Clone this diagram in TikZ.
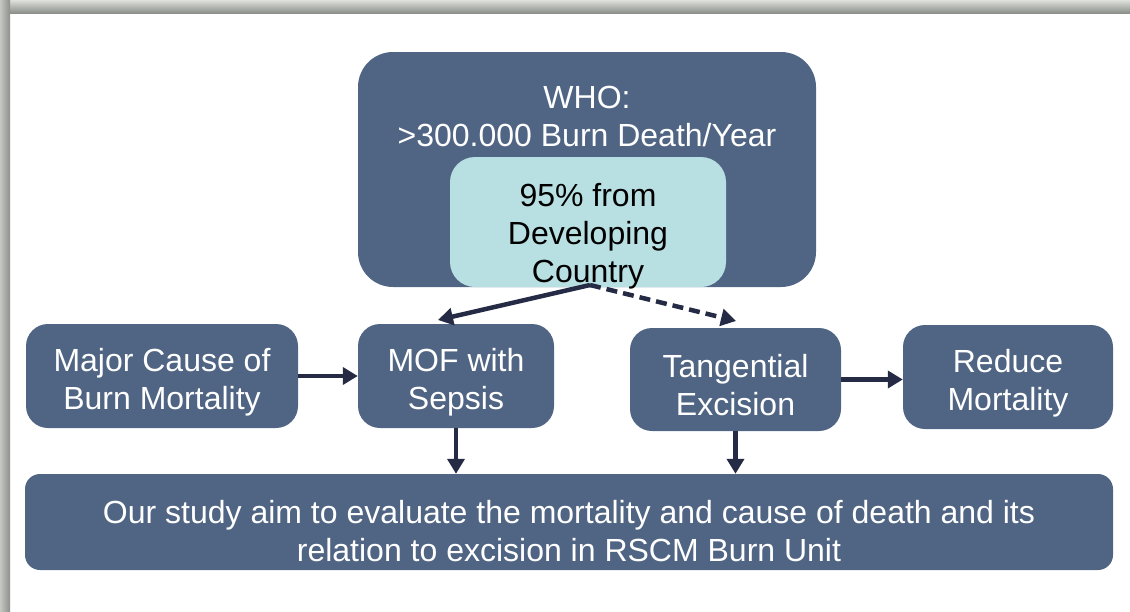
\documentclass[tikz,border=0pt]{standalone}
\usepackage{fontspec}
\setmainfont{Liberation Sans}
\usetikzlibrary{arrows.meta,calc}
\definecolor{boxblue}{HTML}{506584}
\definecolor{paleteal}{HTML}{B8E0E3}
\definecolor{arrowink}{HTML}{262B45}
\definecolor{framelight}{HTML}{DDE0DB}
\definecolor{framedark}{HTML}{8C908A}
\tikzstyle{blk} = [fill=boxblue, text=white, align=center, inner sep=0pt, font=\fontsize{32}{38}\selectfont]

\begin{document}
\begin{tikzpicture}[x=1pt,y=-1pt,
			step box/.style={blk, rounded corners=22pt},
			arr/.style={draw=arrowink, line width=4.5pt, -{Triangle[length=15pt,width=17pt]}},
			dasharr/.style={arr, dash pattern=on 11pt off 6pt},
			caption/.style={align=center, inner sep=0pt, font=\fontsize{32}{38}\selectfont},
			inner text/.style={caption, text=white, yshift=-6pt}]
			\useasboundingbox (0,0) rectangle (1130,611);
			% frame
			\shade[top color=framelight, bottom color=framedark] (0,0) rectangle (1130,13);
			\shade[left color=framelight!70!framedark, right color=framedark] (0,0) rectangle (10,611);
			% top box
			\node (who) [blk, rounded corners=35pt, minimum width=458pt, minimum height=235pt] at (587,169.5) {};
			\node (whotext) [caption, text=white] at (587,116) {WHO:\\>300.000 Burn Death/Year};
			\node (dev) [fill=paleteal, rounded corners=25pt, minimum width=276pt, minimum height=130pt] at (588,222) {};
			\node (devtext) [caption] at (588,236) {95\% from\\Developing\\Country};
			% middle row
			\node (major) [step box, minimum width=272pt, minimum height=104pt,
				label={[inner text]center:{Major Cause of\\Burn Mortality}}] at (162,376) {};
			\node (mof) [step box, minimum width=196pt, minimum height=104pt,
				label={[inner text]center:{MOF with\\Sepsis}}] at (456,376) {};
			\node (tan) [step box, minimum width=211pt, minimum height=103pt,
				label={[inner text]center:{Tangential\\Excision}}] at (735.5,379.5) {};
			\node (reduce) [step box, minimum width=210pt, minimum height=104pt,
				label={[inner text]center:{Reduce\\Mortality}}] at (1008,377) {};
			% bottom
			\node (aim) [blk, rounded corners=15pt, minimum width=1088pt, minimum height=96pt] at (569,522) {};
			\node (aimtext) [caption, text=white] at (569,531) {Our study aim to evaluate the mortality and cause of death and its\\relation to excision in RSCM Burn Unit};
			\coordinate (fork) at (590,285);
			\coordinate (mofin) at (438,320);
			\coordinate (tanin) at (736,321);
			\draw [arr] (fork) -- (mofin);
			\draw [dasharr] (fork) -- (tanin);
			\draw [arr] (major.east) -- (mof.west);
			\draw [arr] (tan.east) -- (tan.east -| reduce.west);
			\draw [arr] (mof.south) -- (mof.south |- aim.north);
			\draw [arr] (tan.south) -- (tan.south |- aim.north);
		\end{tikzpicture}
\end{document}
